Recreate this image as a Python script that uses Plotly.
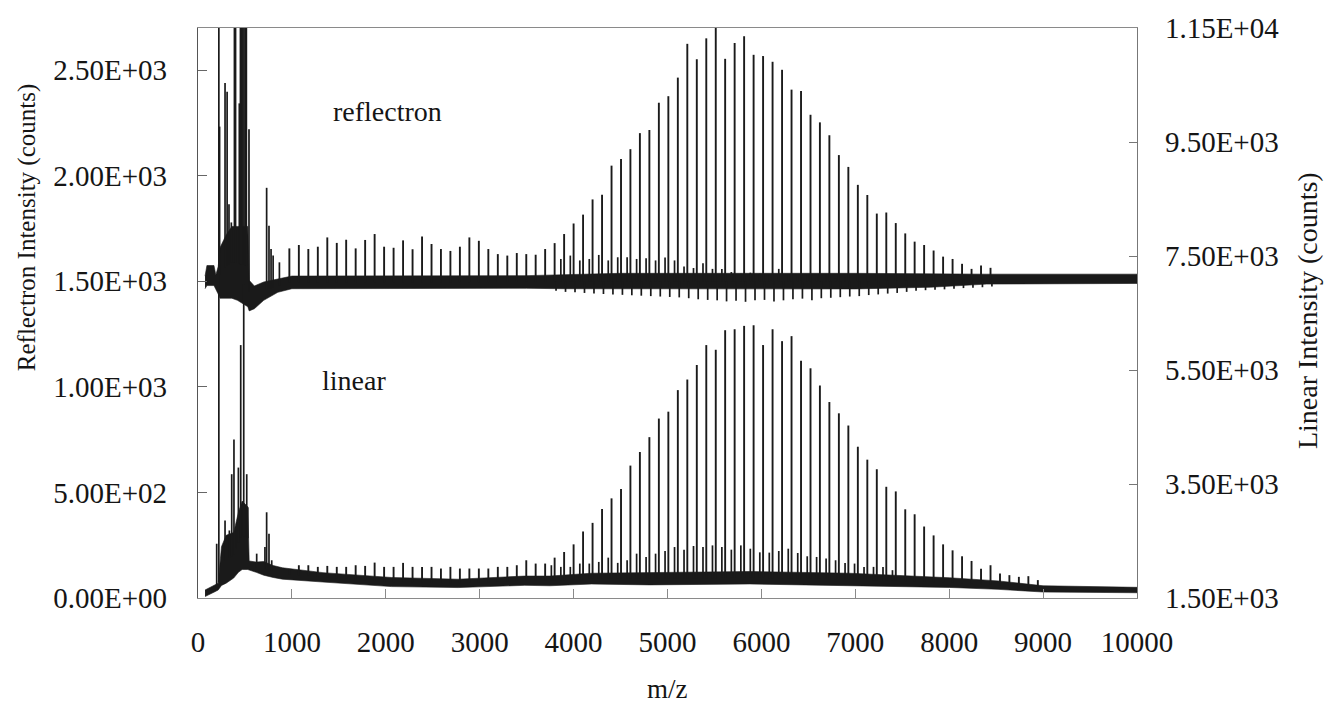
import numpy as np
import plotly.graph_objects as go

# ---------------- data ----------------
# m/z positions of the oligomer series (k = 0..79)
series_mz = [973, 1074, 1175, 1276, 1377, 1478, 1578, 1679, 1780, 1881,
             1982, 2083, 2184, 2285, 2386, 2487, 2587, 2688, 2789, 2890,
             2991, 3092, 3193, 3294, 3395, 3496, 3596, 3697, 3798, 3899,
             4000, 4101, 4202, 4303, 4404, 4505, 4605, 4706, 4807, 4908,
             5009, 5110, 5211, 5312, 5413, 5514, 5614, 5715, 5816, 5917,
             6018, 6119, 6220, 6321, 6422, 6523, 6623, 6724, 6825, 6926,
             7027, 7128, 7229, 7330, 7431, 7532, 7632, 7733, 7834, 7935,
             8036, 8137, 8238, 8339, 8440, 8541, 8641, 8742, 8843, 8944]

# reflectron main series heights (counts), k = 0..74
refl_main = [1656, 1672, 1653, 1664, 1708, 1682, 1697, 1656, 1696, 1724,
             1664, 1659, 1694, 1652, 1712, 1677, 1653, 1644, 1664, 1708,
             1692, 1653, 1629, 1622, 1634, 1629, 1626, 1653,
             1681, 1724, 1774, 1816, 1888, 1910, 2048, 2079, 2126, 2202,
             2217, 2346, 2377, 2465, 2625, 2552, 2651, 2800, 2554, 2629,
             2661, 2573, 2567, 2540, 2502, 2408, 2402, 2289, 2253, 2192,
             2098, 2042, 1957, 1909, 1821, 1826, 1776, 1727, 1688, 1672,
             1646, 1617, 1606, 1583, 1559, 1575, 1564]

# linear main series heights (counts), k = 0..79
lin_main = [2000, 2075, 2075, 2046, 2063, 2046, 2046, 2075, 2063, 2121,
            2046, 2046, 2116, 2046, 2046, 2046, 2017, 2046, 2017, 2017,
            2017, 2017, 2046, 2046, 2075, 2162, 2104, 2104,
            2208, 2307, 2441, 2667, 2818, 3062, 3248, 3411, 3823, 4061,
            4322, 4648, 4769, 5147, 5333, 5588, 5937, 5855, 6198, 6215,
            6274, 6285, 5937, 6215, 6006, 6094, 5664, 5530, 5228, 4938,
            4740, 4526, 4154, 3927, 3759, 3451, 3370, 3056, 2969, 2754,
            2598, 2441, 2336, 2232, 2150, 2011, 2075, 1930,
            1901, 1871, 1883, 1814]

# satellite peaks just below each main peak
refl_sec_k = list(range(29, 60))
refl_sec = [1606, 1622, 1599, 1606, 1625, 1599, 1614, 1614, 1606, 1609,
            1599, 1613, 1599, 1570, 1563, 1586, 1559, 1559, 1544, 1536,
            1541, 1536, 1528, 1559, 1533, 1520, 1528, 1520, 1533, 1513, 1520]
lin_sec_k = list(range(28, 65))
lin_sec = [2075, 2046, 2046, 2104, 2104, 2133, 2208, 2116, 2162, 2278,
           2220, 2278, 2325, 2394, 2348, 2412, 2394, 2423, 2394, 2348,
           2423, 2365, 2301, 2296, 2325, 2365, 2290, 2232, 2220, 2191,
           2162, 2116, 2104, 2046, 2046, 2046, 1988]

# downward ringing after each reflectron main peak, k = 28..74
refl_dip_k = list(range(28, 75))
refl_dip = [1455, 1450, 1448, 1445, 1442, 1440, 1438,
            1436, 1434, 1432, 1430, 1428, 1426, 1424,
            1420, 1415, 1412, 1410, 1405, 1408, 1403, 1410, 1412, 1405,
            1410, 1415, 1418, 1410, 1420, 1422, 1425, 1428,
            1430, 1435, 1438, 1442, 1445, 1450, 1455, 1458, 1460, 1462, 1465,
            1468, 1470, 1472, 1475]

# low-mass region peaks
refl_low_mz = [230, 288, 310, 330, 355, 388, 400, 440, 452, 465, 478, 490,
               503, 515, 543, 731, 756, 778, 800, 867]
refl_low_h = [2233, 2440, 2398, 1865, 1779, 2800, 2800, 2343, 2800, 2800,
              2800, 2800, 2800, 2800, 2220, 1943, 1763, 1653, 1622, 1590]
lin_low_mz = [199, 222, 288, 334, 359, 383, 405, 430, 455, 487, 519, 530,
              625, 713, 731, 756, 785]
lin_low_h = [2452, 12500, 2859, 2685, 3672, 4282, 2700, 3788, 5937, 7000,
             3672, 3091, 2278, 2394, 3004, 2627, 2162]

# noise band envelopes (lower / upper)
refl_band_mz = [75, 95, 170, 190, 215, 235, 300, 360, 420, 530, 545, 600,
                700, 850, 1000, 3500, 3900, 4500, 7000, 7800, 8400, 10000]
refl_band_lo = [1465, 1480, 1480, 1460, 1440, 1420, 1420, 1420, 1410, 1380,
                1360, 1370, 1410, 1448, 1465, 1467, 1465, 1462, 1464, 1472,
                1487, 1490]
refl_band_hi = [1525, 1575, 1575, 1530, 1570, 1660, 1720, 1760, 1760, 1760,
                1505, 1478, 1497, 1512, 1525, 1527, 1532, 1538, 1538, 1534,
                1534, 1534]
lin_band_mz = [75, 180, 215, 250, 300, 380, 430, 470, 530, 545, 620, 700,
               800, 900, 1331, 2060, 2770, 3480, 3750, 4190, 4810, 5875,
               6940, 8005, 8520, 9000, 10000]
lin_band_lo = [1525, 1610, 1640, 1720, 1760, 1850, 1950, 2000, 2000, 1990,
               1950, 1900, 1860, 1830, 1780, 1700, 1683, 1722, 1715, 1745,
               1730, 1746, 1715, 1685, 1652, 1605, 1592]
lin_band_hi = [1640, 1727, 1760, 2400, 2600, 2650, 3000, 3200, 3100, 2150,
               2130, 2140, 2070, 2030, 1945, 1860, 1830, 1885, 1885, 1935,
               1945, 1965, 1935, 1855, 1800, 1715, 1687]

x_ticks = [0, 1000, 2000, 3000, 4000, 5000, 6000, 7000, 8000, 9000, 10000]
x_tick_text = [str(v) for v in x_ticks]
y1_ticks = [0, 500, 1000, 1500, 2000, 2500]
y1_tick_text = ["0.00E+00", "5.00E+02", "1.00E+03", "1.50E+03", "2.00E+03", "2.50E+03"]
y2_ticks = [1500, 3500, 5500, 7500, 9500, 11500]
y2_tick_text = ["1.50E+03", "3.50E+03", "5.50E+03", "7.50E+03", "9.50E+03", "1.15E+04"]

# ---------------- drawing ----------------
INK = "#1a1a1a"
FONT = "Liberation Serif"
TXT = "#151515"


def band_trace(mz, lo, hi, yaxis):
    return go.Scatter(x=list(mz) + list(mz)[::-1], y=list(hi) + list(lo)[::-1],
                      fill="toself", fillcolor=INK, mode="lines",
                      line=dict(color=INK, width=0.6), yaxis=yaxis,
                      hoverinfo="skip", showlegend=False)


def stick_trace(mz, tops, band_mz, lo, hi, yaxis, width=1.9):
    center = (np.array(lo) + np.array(hi)) / 2.0
    base = np.interp(mz, band_mz, center)
    xs, ys = [], []
    for m, t, b in zip(mz, tops, base):
        xs += [m, m, None]
        ys += [b, t, None]
    return go.Scatter(x=xs, y=ys, mode="lines", line=dict(color=INK, width=width),
                      yaxis=yaxis, hoverinfo="skip", showlegend=False)


SAT = 35   # satellite offset (m/z)
RING = 15  # ringing offset (m/z)

fig = go.Figure()
# linear spectrum (right axis)
fig.add_trace(band_trace(lin_band_mz, lin_band_lo, lin_band_hi, "y2"))
fig.add_trace(stick_trace(series_mz[:len(lin_main)], lin_main,
                          lin_band_mz, lin_band_lo, lin_band_hi, "y2"))
fig.add_trace(stick_trace([series_mz[k] - SAT for k in lin_sec_k], lin_sec,
                          lin_band_mz, lin_band_lo, lin_band_hi, "y2", 1.7))
fig.add_trace(stick_trace(lin_low_mz, lin_low_h,
                          lin_band_mz, lin_band_lo, lin_band_hi, "y2", 1.7))
# reflectron spectrum (left axis)
fig.add_trace(band_trace(refl_band_mz, refl_band_lo, refl_band_hi, "y"))
fig.add_trace(stick_trace(series_mz[:len(refl_main)], refl_main,
                          refl_band_mz, refl_band_lo, refl_band_hi, "y"))
fig.add_trace(stick_trace([series_mz[k] - SAT for k in refl_sec_k], refl_sec,
                          refl_band_mz, refl_band_lo, refl_band_hi, "y", 1.7))
fig.add_trace(stick_trace([series_mz[k] + RING for k in refl_dip_k], refl_dip,
                          refl_band_mz, refl_band_lo, refl_band_hi, "y", 1.7))
fig.add_trace(stick_trace(refl_low_mz, refl_low_h,
                          refl_band_mz, refl_band_lo, refl_band_hi, "y", 1.7))

tickfont = dict(family=FONT, size=29, color=TXT)
fig.update_layout(
    width=1325, height=704,
    margin=dict(l=198, r=188, t=24, b=106),
    paper_bgcolor="white", plot_bgcolor="white",
    showlegend=False,
    xaxis=dict(range=[0, 10000], tickvals=x_ticks, ticktext=x_tick_text,
               showgrid=False, zeroline=False, showline=True, linecolor="#8a8a8a",
               linewidth=1.2, mirror=True, ticks="inside", ticklen=9,
               tickcolor="#8a8a8a", tickfont=tickfont, ticklabelstandoff=18),
    yaxis=dict(range=[0, 2700], tickvals=y1_ticks, ticktext=y1_tick_text,
               showgrid=False, zeroline=False, showline=True, linecolor="#555",
               linewidth=1.2, ticks="inside", ticklen=9, tickcolor="#666",
               tickfont=tickfont, ticklabelstandoff=24),
    yaxis2=dict(range=[1500, 11500], tickvals=y2_ticks, ticktext=y2_tick_text,
                overlaying="y", side="right",
                showgrid=False, zeroline=False, showline=True, linecolor="#777",
                linewidth=1.2, ticks="inside", ticklen=8, tickcolor="#777",
                tickfont=tickfont, ticklabelstandoff=21),
)

fig.add_annotation(text="reflectron", x=2023, y=2305, xref="x", yref="y",
                   showarrow=False, font=dict(family=FONT, size=28, color=TXT))
fig.add_annotation(text="linear", x=1661, y=5315, xref="x", yref="y2",
                   showarrow=False, font=dict(family=FONT, size=28, color=TXT))
fig.add_annotation(text="Reflectron Intensity (counts)", textangle=-90,
                   x=-0.182, y=0.649, xref="paper", yref="paper",
                   xanchor="center", yanchor="middle", showarrow=False,
                   font=dict(family=FONT, size=25, color=TXT))
fig.add_annotation(text="Linear Intensity (counts)", textangle=-90,
                   x=1.181, y=0.505, xref="paper", yref="paper",
                   xanchor="center", yanchor="middle", showarrow=False,
                   font=dict(family=FONT, size=28, color=TXT))
fig.add_annotation(text="m/z", x=0.5, y=-0.160, xref="paper", yref="paper",
                   xanchor="center", yanchor="middle", showarrow=False,
                   font=dict(family=FONT, size=27, color=TXT))

fig.write_html("out.html")
